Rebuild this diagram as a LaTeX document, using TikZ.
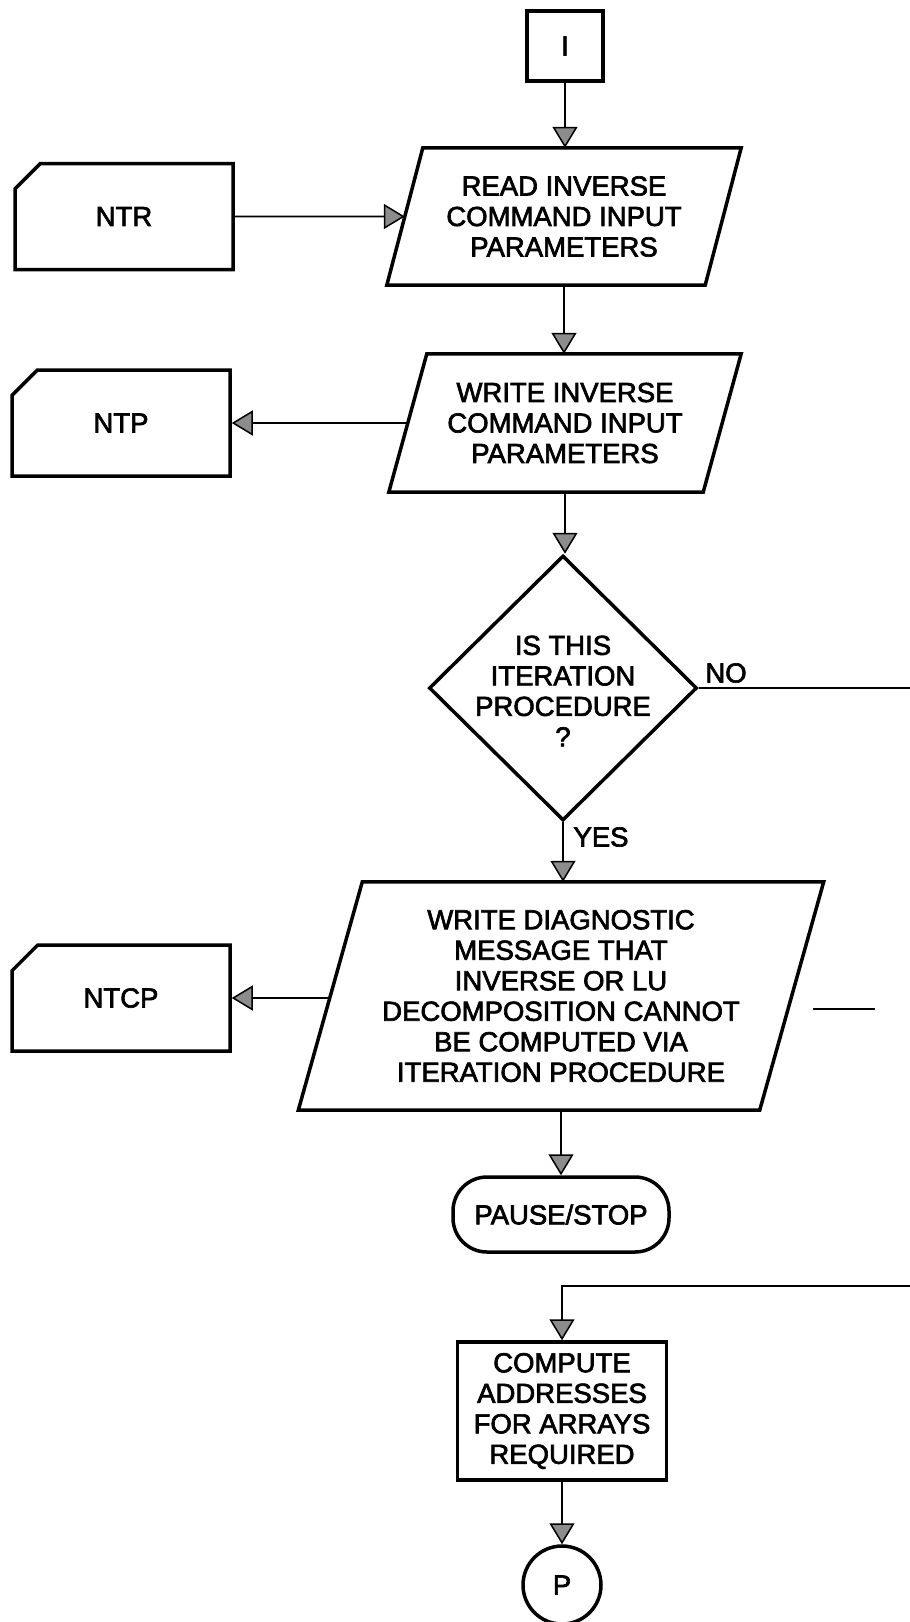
\documentclass[tikz,border=0pt]{standalone}
\usepackage{fontspec}
\newfontfamily\flowfont[FakeBold=2.4]{Liberation Sans}
\usetikzlibrary{arrows.meta,shapes.geometric,shapes.misc}

% outline of an input/output box: a parallelogram whose slanted sides
% pass through the west and east anchors of the rectangular node #1
\newcommand\slantoutline[2]{%
  \draw[shapeline] ([xshift=#2]#1.north west) -- ([xshift=#2]#1.north east)
    -- ([xshift=-#2]#1.south east) -- ([xshift=-#2]#1.south west) -- cycle;}

\begin{document}
\begin{tikzpicture}[x=1pt,y=-1pt,
  every node/.style={font=\flowfont\fontsize{27.5}{30.5}\selectfont, align=center, inner sep=0pt},
  shapeline/.style={draw=black, line width=3.5pt, line join=miter},
  iobox/.style={rectangle},
  card/.style={shapeline, chamfered rectangle, chamfered rectangle corners=north west,
               chamfered rectangle sep=16pt, minimum width=218pt, minimum height=106pt},
  procbox/.style={shapeline, rectangle},
  decision/.style={shapeline, diamond, minimum width=268pt, minimum height=265pt},
  terminal/.style={shapeline, rectangle, rounded corners=34pt, minimum width=216pt, minimum height=75pt},
  connector/.style={shapeline, circle, minimum size=78pt},
  flow/.style={draw=black, line width=1.8pt},
  arr/.style={flow, -{Triangle[width=25pt,length=21pt,fill=black!45,line width=1.5pt]}},
]
\useasboundingbox[fill=white] (0,0) rectangle (910,1622);

% main column
\node[procbox, minimum width=76pt, minimum height=70pt] (start) at (565,46) {I};
\node[iobox, minimum width=318pt, minimum height=137pt] (read) at (564,216.5)
  {READ INVERSE\\COMMAND INPUT\\PARAMETERS};
\slantoutline{read}{18pt}
\node[iobox, minimum width=314pt, minimum height=138pt] (write) at (565,423)
  {WRITE INVERSE\\COMMAND INPUT\\PARAMETERS};
\slantoutline{write}{19pt}
\node[decision] (iter) at (563,688) {};
\node (itertext) at (563,691) {IS THIS\\ITERATION\\PROCEDURE\\?};
\node[iobox, minimum width=461pt, minimum height=228pt] (diag) at (561,996)
  {WRITE DIAGNOSTIC\\MESSAGE THAT\\INVERSE OR LU\\DECOMPOSITION CANNOT\\BE COMPUTED VIA\\ITERATION PROCEDURE};
\slantoutline{diag}{32pt}
\node[terminal] (stop) at (561,1214.5) {PAUSE/STOP};
\node[procbox, minimum width=209pt, minimum height=138pt] (compute) at (562,1411)
  {COMPUTE\\ADDRESSES\\FOR ARRAYS\\REQUIRED};
\node[connector] (pout) at (562,1585) {P};

% file cards on the left
\node[card] (ntr) at (124,216.5) {NTR};
\node[card] (ntp) at (121,423) {NTP};
\node[card] (ntcp) at (121,998) {NTCP};

% branch labels
\node (nolbl) at (726,673) {NO};
\node (yeslbl) at (601,837) {YES};

% off-page ends of the NO branch
\coordinate (noend) at (910,688);
\coordinate (retstart) at (910,1286);
\coordinate (frag1) at (813,1009);
\coordinate (frag2) at (875,1009);

% connectors
\draw[arr] (start.south) -- (start.south |- read.north);
\draw[arr] (ntr) -- (read);
\draw[arr] (read.south) -- (read.south |- write.north);
\draw[arr] (write) -- (ntp);
\draw[arr] (write.south) -- (write.south |- iter.north);
\draw[flow] (iter.east) -- (noend);
\draw[arr] (iter.south) -- (iter.south |- diag.north);
\draw[arr] (diag.west |- ntcp.east) -- (ntcp.east);
\draw[arr] (diag.south) -- (diag.south |- stop.north);
\draw[arr] (retstart) -- (retstart -| compute.north) -- (compute.north);
\draw[arr] (compute) -- (pout);
\draw[flow, line width=1.5pt] (frag1) -- (frag2);
\end{tikzpicture}
\end{document}
